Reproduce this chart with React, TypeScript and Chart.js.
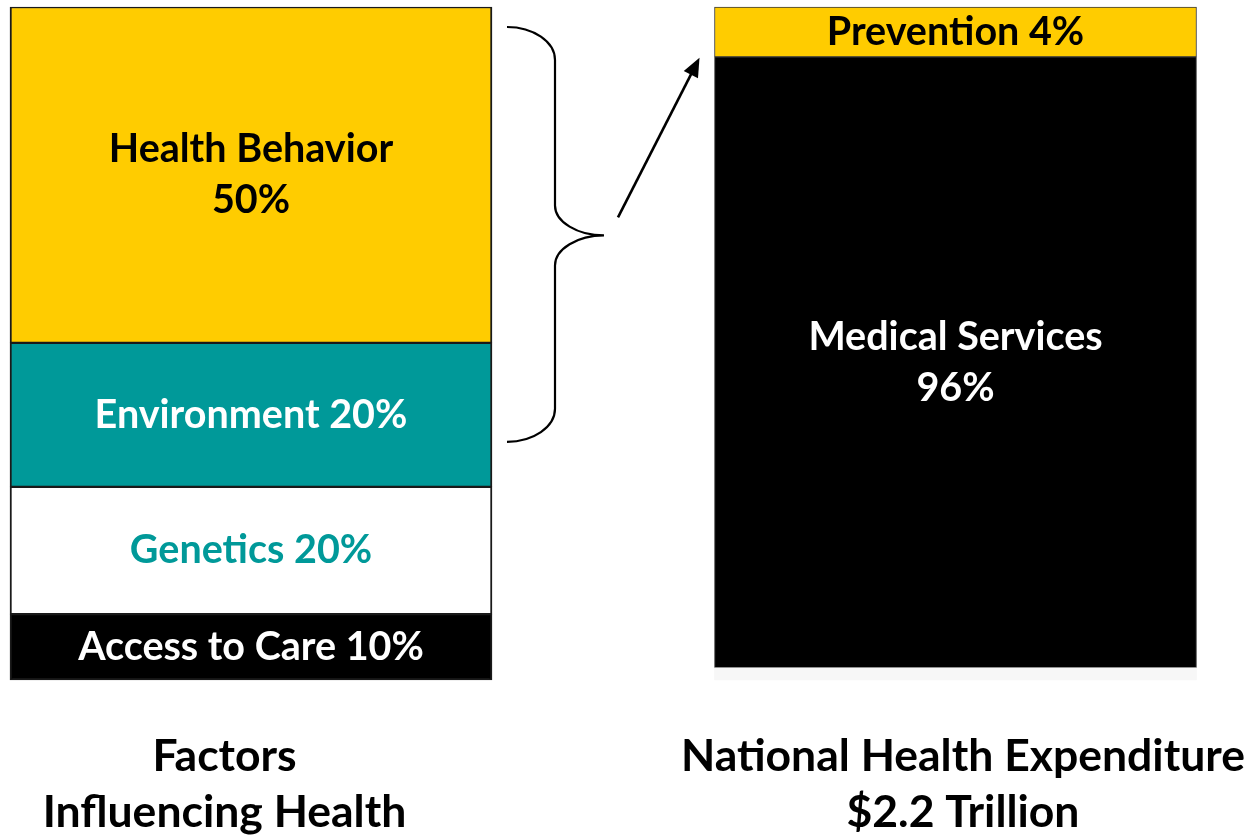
import React, { useEffect, useRef } from 'react';
import { Chart, registerables } from 'chart.js';

Chart.register(...registerables);

const FONT = 'Lato, "Open Sans", sans-serif';

// Category (axis) labels
const categories = [
  ['Factors', 'Influencing Health'],
  ['National Health Expenditure', '$2.2 Trillion'],
];
const categoryKeys = ['Factors Influencing Health', 'National Health Expenditure'];

// Left bar: factors influencing health, bottom to top (share of bar height as drawn)
const factorLabels = [['Access to Care 10%'], ['Genetics 20%'], ['Environment 20%'], ['Health Behavior', '50%']];
const factorHeights = [9.8, 18.9, 21.4, 49.9];
const factorFill = ['#000000', '#ffffff', '#009999', '#ffcc00'];
const factorText = ['#ffffff', '#009999', '#ffffff', '#000000'];

// Right bar: national health expenditure, bottom to top (share of bar height as drawn)
const spendLabels = [[], ['Medical Services', '96%'], ['Prevention 4%']];
const spendHeights = [1.8, 90.8, 7.4];
const spendFill = ['#f7f7f7', '#000000', '#ffcc00'];
const spendText = ['#000000', '#ffffff', '#000000'];

const segmentLabels = {
  id: 'segmentLabels',
  afterDatasetsDraw(chart: any) {
    const ctx = chart.ctx;
    chart.data.datasets.forEach((ds: any, i: number) => {
      const lines: string[] = ds.segmentText || [];
      if (!lines.length) return;
      const meta = chart.getDatasetMeta(i);
      meta.data.forEach((el: any, j: number) => {
        if (ds.data[j] == null) return;
        const { x, y, base } = el.getProps(['x', 'y', 'base'], true);
        const cy = (y + base) / 2;
        ctx.save();
        ctx.font = `bold 39.5px ${FONT}`;
        ctx.fillStyle = ds.textColor;
        ctx.textAlign = 'center';
        ctx.textBaseline = 'middle';
        const lh = 51;
        lines.forEach((t, k) => ctx.fillText(t, x, cy + (k - (lines.length - 1) / 2) * lh));
        ctx.restore();
      });
    });
  },
};

const braceArrow = {
  id: 'braceArrow',
  afterDatasetsDraw(chart: any) {
    const ctx = chart.ctx;
    const hb = chart.getDatasetMeta(3).data[0].getProps(['x', 'y', 'base', 'width'], true);
    const env = chart.getDatasetMeta(2).data[0].getProps(['x', 'y', 'base', 'width'], true);
    const prev = chart.getDatasetMeta(6).data[1].getProps(['x', 'y', 'base', 'width'], true);
    const right = hb.x + hb.width / 2;
    const x0 = right + 15;
    const xs = right + 63;
    const xt = right + 112;
    const top = hb.y + 20;
    const bot = env.base - 45;
    const mid = (top + bot) / 2 + 1;
    const w = xs - x0;
    const h = 33;
    const k = 0.55;
    ctx.save();
    ctx.strokeStyle = '#000';
    ctx.lineWidth = 2.2;
    ctx.beginPath();
    ctx.moveTo(x0, top);
    ctx.bezierCurveTo(x0 + k * w, top, xs, top + h - k * h, xs, top + h);
    ctx.lineTo(xs, mid - 30);
    ctx.bezierCurveTo(xs, mid - 30 + k * 30, xt - k * w, mid, xt, mid);
    ctx.bezierCurveTo(xt - k * w, mid, xs, mid + 30 - k * 30, xs, mid + 30);
    ctx.lineTo(xs, bot - h);
    ctx.bezierCurveTo(xs, bot - h + k * h, x0 + k * w, bot, x0, bot);
    ctx.stroke();

    // arrow
    const tx = xt + 14;
    const ty = mid - 18;
    const hx = prev.x - prev.width / 2 - 15;
    const hy = prev.base + 1;
    const dx = hx - tx;
    const dy = hy - ty;
    const len = Math.hypot(dx, dy);
    const ux = dx / len;
    const uy = dy / len;
    const hl = 19;
    const hw = 8;
    const bx = hx - ux * hl;
    const by = hy - uy * hl;
    ctx.lineWidth = 2.6;
    ctx.beginPath();
    ctx.moveTo(tx, ty);
    ctx.lineTo(bx + ux * 2, by + uy * 2);
    ctx.stroke();
    ctx.fillStyle = '#000';
    ctx.beginPath();
    ctx.moveTo(hx, hy);
    ctx.lineTo(bx - uy * hw, by + ux * hw);
    ctx.lineTo(bx + uy * hw, by - ux * hw);
    ctx.closePath();
    ctx.fill();
    ctx.restore();
  },
};

export default function App() {
  const ref = useRef<HTMLCanvasElement | null>(null);

  useEffect(() => {
    if (!ref.current) return;
    const leftBorder = { left: 2, right: 2, top: 1.5, bottom: 1.5 };
    const datasets: any[] = [];
    factorHeights.forEach((v, i) => {
      datasets.push({
        label: factorLabels[i].join(' '),
        data: [v, null],
        xAxisID: 'x',
        yAxisID: 'y',
        backgroundColor: factorFill[i],
        borderColor: '#1a1a1a',
        borderWidth: leftBorder,
        borderSkipped: false,
        segmentText: factorLabels[i],
        textColor: factorText[i],
        clip: false,
      });
    });
    spendHeights.forEach((v, i) => {
      datasets.push({
        label: spendLabels[i].join(' ') || 'base',
        data: [null, v],
        xAxisID: 'x',
        yAxisID: 'y',
        backgroundColor: spendFill[i],
        borderColor: '#3a3a3a',
        borderWidth: i === 0 ? 0 : 1,
        borderSkipped: false,
        segmentText: spendLabels[i],
        textColor: spendText[i],
        clip: false,
      });
    });

    const chart = new Chart(ref.current, {
      type: 'bar',
      data: { labels: categoryKeys, datasets },
      options: {
        animation: false,
        responsive: true,
        maintainAspectRatio: false,
        events: [],
        layout: { padding: { top: 7, left: 251, right: 294.5, bottom: 0 } },
        datasets: { bar: { barThickness: 482 } } as any,
        plugins: { legend: { display: false }, tooltip: { enabled: false } },
        scales: {
          x: {
            type: 'category',
            stacked: true,
            offset: false,
            display: false,
          },
          xl: {
            type: 'linear',
            axis: 'x',
            position: 'bottom',
            offset: false,
            min: 0,
            max: 1,
            grid: { display: false, drawTicks: false, offset: false },
            border: { display: false },
            afterBuildTicks: (scale: any) => {
              // label centres, in category units of the bar axis
              scale.ticks = [{ value: -0.0376 }, { value: 1.0106 }];
            },
            afterFit: (scale: any) => {
              scale.height = 156;
              scale.paddingLeft = 0;
              scale.paddingRight = 0;
            },
            ticks: {
              autoSkip: false,
              maxRotation: 0,
              minRotation: 0,
              padding: 49,
              color: '#000000',
              font: { family: FONT, size: 44.5, weight: 'bold', lineHeight: 1.26 },
              callback: (_v: any, i: number) => categories[i],
            },
          } as any,
          y: {
            stacked: true,
            display: false,
            min: 0,
            max: 100,
          },
        },
      },
      plugins: [segmentLabels, braceArrow],
    });
    return () => chart.destroy();
  }, []);

  return (
    <div style={{ position: 'fixed', left: 0, top: 0, width: 1250, height: 836, background: '#ffffff' }}>
      <canvas ref={ref} />
    </div>
  );
}
